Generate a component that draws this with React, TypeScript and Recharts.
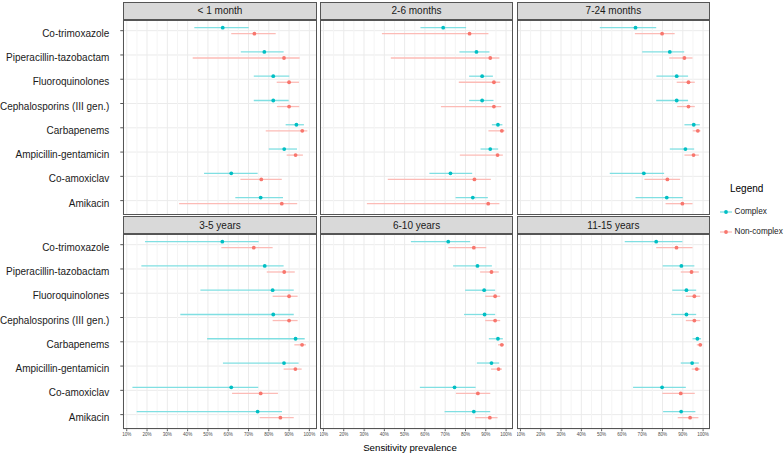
import React from 'react';
import { ScatterChart, Scatter, XAxis, YAxis, CartesianGrid, ErrorBar, ReferenceLine } from 'recharts';

const antibiotics = [
  'Co-trimoxazole',
  'Piperacillin-tazobactam',
  'Fluoroquinolones',
  'Cephalosporins (III gen.)',
  'Carbapenems',
  'Ampicillin-gentamicin',
  'Co-amoxiclav',
  'Amikacin',
];

const ageGroups = ['< 1 month', '2-6 months', '7-24 months', '3-5 years', '6-10 years', '11-15 years'];

// rows: age group, columns: antibiotic (same order as above)
const complexEst = [
  [57.3, 77.8, 82.2, 82.2, 93.6, 87.6, 61.5, 76.0],
  [69.0, 85.4, 88.2, 88.2, 96.0, 92.2, 72.6, 83.6],
  [66.7, 83.6, 87.0, 87.0, 95.4, 91.3, 70.8, 82.1],
  [57.1, 78.0, 81.9, 82.2, 93.2, 87.5, 61.5, 74.5],
  [71.5, 85.9, 89.2, 89.4, 96.0, 92.8, 74.6, 84.1],
  [76.9, 89.3, 91.8, 91.8, 97.2, 94.6, 79.8, 89.2],
];
const complexLow = [
  [43.3, 66.2, 72.6, 72.6, 88.3, 80.0, 48.1, 63.5],
  [57.8, 77.0, 81.8, 81.8, 93.0, 87.4, 62.2, 75.1],
  [49.1, 70.0, 77.0, 76.9, 90.8, 83.6, 54.0, 66.7],
  [19.0, 17.2, 46.3, 36.4, 49.6, 57.4, 12.8, 14.9],
  [53.1, 73.9, 79.8, 79.3, 91.5, 85.6, 57.5, 69.7],
  [61.4, 80.1, 84.8, 84.4, 94.8, 89.0, 65.5, 80.3],
];
const complexHigh = [
  [70.1, 87.3, 90.1, 89.8, 97.3, 93.9, 74.5, 87.0],
  [80.3, 91.8, 93.5, 93.8, 98.2, 96.1, 83.3, 91.0],
  [76.9, 90.7, 92.6, 92.6, 98.4, 95.6, 80.8, 90.0],
  [75.0, 87.3, 92.3, 92.3, 97.7, 94.7, 74.8, 86.5],
  [82.3, 93.0, 94.6, 94.6, 98.4, 96.6, 85.0, 92.2],
  [89.8, 95.7, 96.6, 96.6, 99.0, 97.9, 91.5, 96.2],
];
const nonComplexEst = [
  [72.9, 87.5, 90.0, 90.0, 96.5, 93.2, 76.3, 86.4],
  [82.0, 92.2, 94.0, 94.0, 97.9, 95.8, 84.4, 91.2],
  [79.8, 90.8, 92.8, 92.8, 97.4, 95.3, 82.4, 89.8],
  [72.6, 87.6, 90.0, 90.0, 96.4, 93.1, 76.0, 85.7],
  [84.1, 92.8, 94.6, 94.6, 97.9, 96.3, 86.1, 92.0],
  [86.9, 94.3, 95.7, 95.7, 98.6, 96.9, 89.0, 93.6],
];
const nonComplexLow = [
  [61.5, 42.5, 83.9, 84.0, 78.5, 88.8, 66.0, 35.8],
  [38.8, 43.2, 76.7, 67.9, 91.3, 77.2, 41.7, 31.4],
  [66.4, 83.3, 87.0, 87.2, 94.9, 90.8, 71.1, 81.5],
  [56.6, 79.0, 81.9, 81.9, 92.6, 87.3, 61.9, 75.5],
  [71.5, 87.2, 89.7, 89.7, 96.0, 92.6, 75.3, 84.8],
  [76.9, 89.0, 91.5, 91.5, 96.9, 94.4, 79.9, 87.5],
];
const nonComplexHigh = [
  [83.4, 95.2, 94.9, 95.0, 99.0, 96.8, 86.4, 94.0],
  [91.3, 96.7, 97.1, 97.6, 99.2, 98.4, 92.5, 96.7],
  [86.0, 94.8, 95.9, 95.9, 98.7, 97.9, 88.7, 94.8],
  [81.9, 92.8, 94.2, 94.2, 98.3, 96.2, 84.5, 92.3],
  [90.2, 96.4, 97.1, 97.1, 99.0, 98.0, 92.2, 95.8],
  [94.8, 97.9, 98.6, 98.6, 99.5, 98.6, 95.9, 97.7],
];

const xTicks = [10, 20, 30, 40, 50, 60, 70, 80, 90, 100];
const xMinorTicks = [15, 25, 35, 45, 55, 65, 75, 85, 95];
const yTicks = [0, 1, 2, 3, 4, 5, 6, 7];

const COMPLEX = '#00BFC4';
const COMPLEX_BAR = '#80DFE2';
const NONCOMPLEX = '#F8766D';
const NONCOMPLEX_BAR = '#FCBBB6';

const FONT = '"Liberation Sans", Arial, Helvetica, sans-serif';

const colLeft = [123.3, 319.9, 516.7];
const rowTop = [20, 234.3];
const plotW = 193.4;
const plotH = 195.2;
const stripH = 18.5;
const DODGE = 0.125;

function buildSeries(est: number[], lo: number[], hi: number[], offset: number) {
  return antibiotics.map((name, i) => ({
    name,
    y: i + offset,
    x: est[i],
    err: [est[i] - lo[i], hi[i] - est[i]],
  }));
}

const YTick = (props: any) => {
  const { x, y, payload } = props;
  return (
    <text x={x} y={y} dy={6} textAnchor="end" fontSize={10} fill="#1a1a1a" fontFamily={FONT}>
      {antibiotics[payload.value]}
    </text>
  );
};

function Panel({ idx }: { idx: number }) {
  const r = Math.floor(idx / 3);
  const c = idx % 3;
  const left = colLeft[c];
  const top = rowTop[r];
  const showY = c === 0;
  const showX = r === 1;
  const yAxisW = left;
  const chartLeft = showY ? 0 : left;
  const chartW = plotW + (showY ? yAxisW : 0);
  const xAxisH = 20;
  const chartH = plotH + (showX ? xAxisH : 0);

  const complexData = buildSeries(complexEst[idx], complexLow[idx], complexHigh[idx], -DODGE);
  const nonData = buildSeries(nonComplexEst[idx], nonComplexLow[idx], nonComplexHigh[idx], DODGE);

  return (
    <>
      <div
        style={{
          position: 'absolute',
          left,
          top: top - stripH,
          width: plotW,
          height: stripH,
          background: '#d9d9d9',
          border: '1px solid #555',
          boxSizing: 'border-box',
          fontFamily: FONT,
          fontSize: 10,
          color: '#1a1a1a',
          display: 'flex',
          alignItems: 'center',
          justifyContent: 'center',
        }}
      >
        {ageGroups[idx]}
      </div>
      <div style={{ position: 'absolute', left: chartLeft, top }}>
        <ScatterChart width={chartW} height={chartH} margin={{ top: 0, right: 0, bottom: 0, left: 0 }}>
          <CartesianGrid stroke="#ebebeb" strokeWidth={1} />
          {xMinorTicks.map((t) => (
            <ReferenceLine key={t} x={t} stroke="#f4f4f4" strokeWidth={1} />
          ))}
          <XAxis
            type="number"
            dataKey="x"
            domain={[8.3, 103.6]}
            allowDataOverflow
            ticks={xTicks}
            interval={0}
            hide={!showX}
            height={xAxisH}
            tickFormatter={(v: number) => `${v}%`}
            tick={{ fontSize: 4.6, fill: '#4d4d4d', fontFamily: FONT }}
            tickSize={2}
            tickMargin={2}
            axisLine={false}
            tickLine={{ stroke: '#555' }}
          />
          <YAxis
            type="number"
            dataKey="y"
            domain={[-0.44, 7.6]}
            reversed
            allowDataOverflow
            ticks={yTicks}
            interval={0}
            hide={!showY}
            width={yAxisW}
            tick={<YTick />}
            tickSize={3}
            tickMargin={11}
            axisLine={false}
            tickLine={{ stroke: '#555' }}
          />
          <Scatter
            name="Complex"
            data={complexData}
            isAnimationActive={false}
            shape={(p: any) => <circle cx={p.cx} cy={p.cy} r={1.9} fill={COMPLEX} />}
          >
            <ErrorBar dataKey="err" direction="x" width={0} stroke={COMPLEX_BAR} strokeWidth={1.3} isAnimationActive={false} />
          </Scatter>
          <Scatter
            name="Non-complex"
            data={nonData}
            isAnimationActive={false}
            shape={(p: any) => <circle cx={p.cx} cy={p.cy} r={1.9} fill={NONCOMPLEX} />}
          >
            <ErrorBar dataKey="err" direction="x" width={0} stroke={NONCOMPLEX_BAR} strokeWidth={1.3} isAnimationActive={false} />
          </Scatter>
        </ScatterChart>
      </div>
      <div
        style={{
          position: 'absolute',
          left,
          top,
          width: plotW,
          height: plotH,
          border: '1px solid #555',
          boxSizing: 'border-box',
          pointerEvents: 'none',
        }}
      />
    </>
  );
}

const legendItems = [
  { label: 'Complex', color: COMPLEX, bar: COMPLEX_BAR, y: 212.3 },
  { label: 'Non-complex', color: NONCOMPLEX, bar: NONCOMPLEX_BAR, y: 232.3 },
];

export default function App() {
  return (
    <div
      style={{
        position: 'absolute',
        left: 0,
        top: 0,
        width: 784,
        height: 454,
        background: '#ffffff',
        fontFamily: FONT,
        overflow: 'hidden',
      }}
    >
      {ageGroups.map((g, i) => (
        <Panel key={g} idx={i} />
      ))}
      <div
        style={{
          position: 'absolute',
          left: 310,
          width: 200,
          top: 440,
          height: 15,
          textAlign: 'center',
          fontSize: 9.7,
          lineHeight: '15px',
          color: '#000',
        }}
      >
        Sensitivity prevalence
      </div>
      <div
        style={{
          position: 'absolute',
          left: 730,
          top: 181,
          fontSize: 10,
          lineHeight: '15px',
          color: '#000',
        }}
      >
        Legend
      </div>
      {legendItems.map((it) => (
        <div key={it.label} style={{ position: 'absolute', left: 719, top: it.y - 7, height: 14, display: 'flex', alignItems: 'center' }}>
          <svg width={14} height={14} style={{ display: 'block' }}>
            <line x1={1} y1={7} x2={13} y2={7} stroke={it.bar} strokeWidth={1.3} />
            <circle cx={7} cy={7} r={1.9} fill={it.color} />
          </svg>
          <span style={{ fontSize: 8.2, marginLeft: 1.5, color: '#1a1a1a', lineHeight: '14px' }}>{it.label}</span>
        </div>
      ))}
    </div>
  );
}
